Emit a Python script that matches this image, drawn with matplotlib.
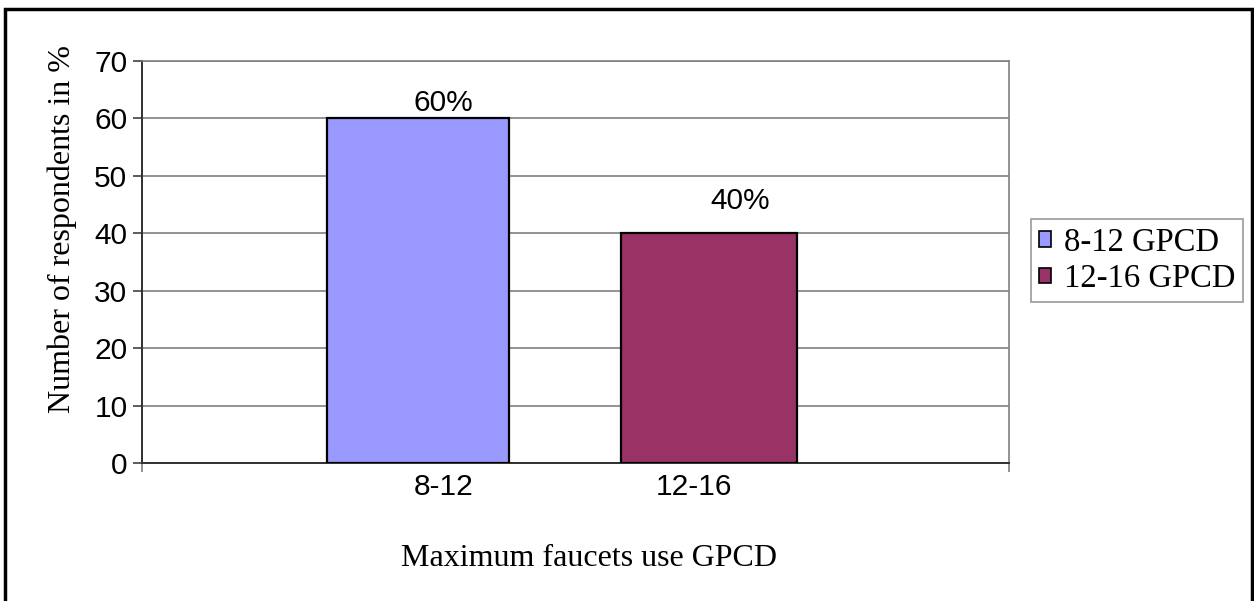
import matplotlib
matplotlib.use('Agg')
import matplotlib.pyplot as plt
from matplotlib.patches import Rectangle

# data
categories = ['8-12', '12-16']
series = ['8-12 GPCD', '12-16 GPCD']
values = [60, 40]
value_labels = ['60%', '40%']
yticks = [0, 10, 20, 30, 40, 50, 60, 70]

colors = ['#9999FF', '#993366']
bar_left = [0.2134, 0.5525]
bar_right = [0.4233, 0.7555]
cat_pos = [0.348, 0.637]
lab_pos = [0.348, 0.690]
lab_off = [1.3, 4.3]

W, H = 1254, 601
fig = plt.figure(figsize=(W / 100, H / 100), dpi=100)
ax = fig.add_axes([142 / W, 1 - 463 / H, (1009 - 142) / W, (463 - 61) / H])

sans = 'Liberation Sans'
serif = 'Liberation Serif'

bars = []
for i in range(len(values)):
    b = ax.bar((bar_left[i] + bar_right[i]) / 2, values[i],
               width=bar_right[i] - bar_left[i], color=colors[i],
               edgecolor='black', linewidth=1.6, label=series[i], zorder=3)
    bars.append(b)
    ax.text(lab_pos[i], values[i] + lab_off[i], value_labels[i],
            ha='center', va='baseline', fontsize=21.5, family=sans, zorder=4)

ax.set_xlim(0, 1)
ax.set_ylim(0, 70)
ax.set_yticks(yticks)
ax.set_yticklabels([str(t) for t in yticks], family=sans, fontsize=21.5)
ax.set_xticks([0, 1])
ax.set_xticklabels(['', ''])
ax.yaxis.grid(True, color='#808080', linewidth=1.2, zorder=0)
ax.tick_params(axis='y', length=6.5, width=1.2, color='#404040', pad=4)
ax.tick_params(axis='x', length=6.5, width=1.2, color='#808080')

for i, c in enumerate(categories):
    ax.text(cat_pos[i], -1.7, c, ha='center', va='top', fontsize=21.5,
            family=sans, transform=ax.transData)

ax.spines['left'].set_color('#303030')
ax.spines['bottom'].set_color('#303030')
ax.spines['left'].set_linewidth(1.4)
ax.spines['bottom'].set_linewidth(1.4)
ax.spines['right'].set_color('#808080')
ax.spines['top'].set_color('#808080')
ax.spines['right'].set_linewidth(1.2)
ax.spines['top'].set_linewidth(1.2)

fig.text(62 / W, 1 - 229 / H, 'Number of respondents in %', rotation=90,
         ha='center', va='center', fontsize=23, family=serif)
fig.text(589 / W, 1 - 566 / H, 'Maximum faucets use GPCD',
         ha='center', va='baseline', fontsize=23, family=serif)

leg = ax.legend(handles=bars, labels=series, loc='upper left',
                bbox_to_anchor=(1031 / W, 1 - 219 / H),
                bbox_transform=fig.transFigure, borderaxespad=0,
                prop={'family': serif, 'size': 23.5}, fancybox=False,
                handlelength=0.35, handleheight=0.35, handletextpad=0.4,
                labelspacing=0.18, borderpad=0.25)
leg.get_frame().set_edgecolor('#808080')
leg.get_frame().set_linewidth(1.2)
for h in leg.legend_handles:
    h.set_linewidth(1.2)

# outer chart border
fig.patches.append(Rectangle((5 / W, -0.1), (1252 - 5) / W, 1.1 - 9 / H,
                             transform=fig.transFigure, fill=False,
                             edgecolor='black', linewidth=2.5))

fig.savefig('out.png', dpi=100)
